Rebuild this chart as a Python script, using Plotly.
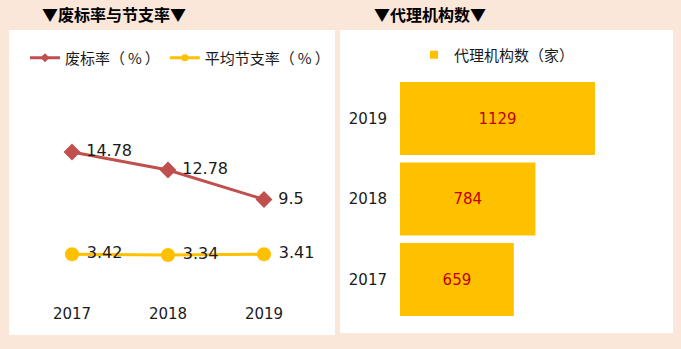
import plotly.graph_objects as go

years = ["2017", "2018", "2019"]
fail_rate = [14.78, 12.78, 9.5]
saving_rate = [3.42, 3.34, 3.41]
agencies = [659, 784, 1129]

W, H = 681, 349
def fx(px): return px / W
def fy(py): return 1 - py / H

FONT = "DejaVu Sans, Noto Sans CJK SC, sans-serif"
CJK = "Noto Sans CJK SC, sans-serif"
RED = "#C0504D"
YEL = "#FFC000"
BG = "#FBE7DA"
NB = "\u00a0"
TS = "\u2009"

fig = go.Figure()

# line chart
fig.add_trace(go.Scatter(x=years, y=fail_rate, mode="lines+markers+text",
    line=dict(color=RED, width=3), marker=dict(symbol="diamond", size=13, color=RED),
    text=[NB + str(v) for v in fail_rate], textposition="middle right",
    textfont=dict(size=16, color="#1a1a1a", family=FONT),
    showlegend=False, xaxis="x", yaxis="y", cliponaxis=False))
fig.add_trace(go.Scatter(x=years, y=saving_rate, mode="lines+markers+text",
    line=dict(color=YEL, width=3), marker=dict(symbol="circle", size=14, color=YEL),
    text=[NB + str(v) for v in saving_rate], textposition="middle right",
    textfont=dict(size=16, color="#1a1a1a", family=FONT),
    showlegend=False, xaxis="x", yaxis="y", cliponaxis=False))
# legend entries
fig.add_trace(go.Scatter(x=[None], y=[None], mode="lines+markers", name=f"废标率（{TS}%{TS}）",
    line=dict(color=RED, width=3), marker=dict(symbol="diamond", size=7, color=RED),
    xaxis="x", yaxis="y", legend="legend"))
fig.add_trace(go.Scatter(x=[None], y=[None], mode="lines+markers", name=f"平均节支率（{TS}%{TS}）",
    line=dict(color=YEL, width=3), marker=dict(symbol="circle", size=7, color=YEL),
    xaxis="x", yaxis="y", legend="legend"))

# bar chart
fig.add_trace(go.Bar(y=years, x=agencies, orientation="h", marker=dict(color=YEL, line=dict(width=0)),
    text=[str(v) for v in agencies], textposition="inside", insidetextanchor="middle",
    textfont=dict(size=15, color="#C00000", family=FONT),
    name="代理机构数（家）", showlegend=False, xaxis="x2", yaxis="y2"))
fig.add_trace(go.Scatter(x=[None], y=[None], mode="markers", name="代理机构数（家）",
    marker=dict(symbol="square", size=8, color=YEL),
    xaxis="x2", yaxis="y2", legend="legend2"))

fig.update_layout(
    width=W, height=H, margin=dict(l=0, r=0, t=0, b=0),
    paper_bgcolor=BG, plot_bgcolor="rgba(0,0,0,0)",
    font=dict(family=FONT, size=15, color="#1a1a1a"),
    xaxis=dict(domain=[fx(24), fx(312)], type="category", range=[-0.5, 2.5],
               showgrid=False, zeroline=False, showline=False,
               ticks="outside", ticklen=3, tickcolor="rgba(0,0,0,0)",
               tickfont=dict(size=15, color="#1a1a1a", family=FONT)),
    yaxis=dict(domain=[fy(297), fy(80)], range=[-1.333, 22.78], visible=False),
    xaxis2=dict(domain=[fx(400), fx(660)], range=[0, 1505.5], visible=False),
    yaxis2=dict(domain=[fy(319.75), fy(78.25)], type="category", range=[-0.5, 2.5],
                anchor="x2", showgrid=False, zeroline=False, showline=False,
                ticks="outside", ticklen=9, tickcolor="rgba(0,0,0,0)",
                tickfont=dict(size=15, color="#1a1a1a", family=FONT)),
    bargap=0.093,
    legend=dict(orientation="h", x=fx(25), y=fy(58), xanchor="left", yanchor="middle",
                bgcolor="rgba(0,0,0,0)", font=dict(size=15, family=CJK, color="#1a1a1a"),
                itemwidth=30, tracegroupgap=0),
    legend2=dict(orientation="h", x=fx(414), y=fy(55), xanchor="left", yanchor="middle",
                 bgcolor="rgba(0,0,0,0)", font=dict(size=15, family=CJK, color="#1a1a1a"),
                 itemwidth=30),
    shapes=[
        dict(type="rect", xref="paper", yref="paper", x0=fx(9), x1=fx(335), y0=fy(335), y1=fy(30),
             fillcolor="white", line=dict(width=0), layer="below"),
        dict(type="rect", xref="paper", yref="paper", x0=fx(340), x1=fx(673), y0=fy(333), y1=fy(30),
             fillcolor="white", line=dict(width=0), layer="below"),
    ],
    annotations=[
        dict(text="<b>▼废标率与节支率▼</b>", xref="paper", yref="paper", x=fx(114), y=fy(14),
             showarrow=False, font=dict(size=16, family=CJK, color="#000000"), xanchor="center", yanchor="middle"),
        dict(text="<b>▼代理机构数▼</b>", xref="paper", yref="paper", x=fx(430), y=fy(14),
             showarrow=False, font=dict(size=16, family=CJK, color="#000000"), xanchor="center", yanchor="middle"),
    ],
)

fig.write_html("out.html")
